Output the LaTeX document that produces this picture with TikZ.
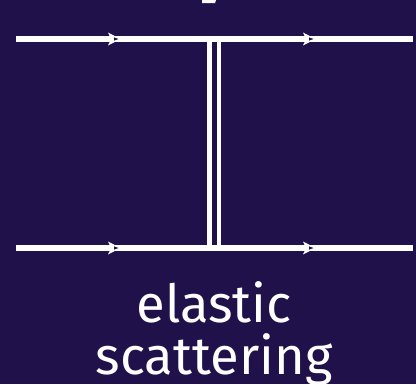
\documentclass[tikz,border=0pt]{standalone}
\usepackage{fontspec}
\setmainfont{Fira Sans}
\definecolor{bg}{HTML}{20114A}
\tikzset{
  fermion/.style={white, line width=6pt},
  boson/.style={white, line width=4.5pt, double=bg, double distance=5pt},
  caption/.style={text=white, font=\fontsize{52.5}{54}\selectfont, anchor=base, inner sep=0pt},
}
\begin{document}
\begin{tikzpicture}[x=1pt, y=-1pt]
\fill[bg] (0,0) rectangle (416,384);
\useasboundingbox (0,0) rectangle (416,384);
% coordinates
\coordinate (a1) at (16,39);
\coordinate (a2) at (413,39);
\coordinate (b1) at (16,248);
\coordinate (b2) at (413,248);
\coordinate (v1) at (214,39);
\coordinate (v2) at (214,248);
% exchanged boson (double line)
\draw[boson] (v1) -- (v2);
% fermion lines
\draw[fermion] (a1) -- (a2);
\draw[fermion] (b1) -- (b2);
% arrow marks
\foreach \x/\y in {108/39, 303/39, 108/248, 303/248}{
  \fill[white] (\x,\y-6.5) -- (\x+12.5,\y) -- (\x,\y+6.5) -- (\x+3,\y) -- cycle;
  \fill[bg] (\x+6,\y-1.6) -- (\x+10.5,\y) -- (\x+6,\y+1.6) -- cycle;
}
% fragment of text cut off at the top
\fill[white] (202,0) -- (216,0) -- (215,3) -- (202,3) -- cycle;
% caption
\node[caption] (label1) at (214,322) {elastic};
\node[caption] (label2) at (214,374) {scattering};
\end{tikzpicture}
\end{document}
